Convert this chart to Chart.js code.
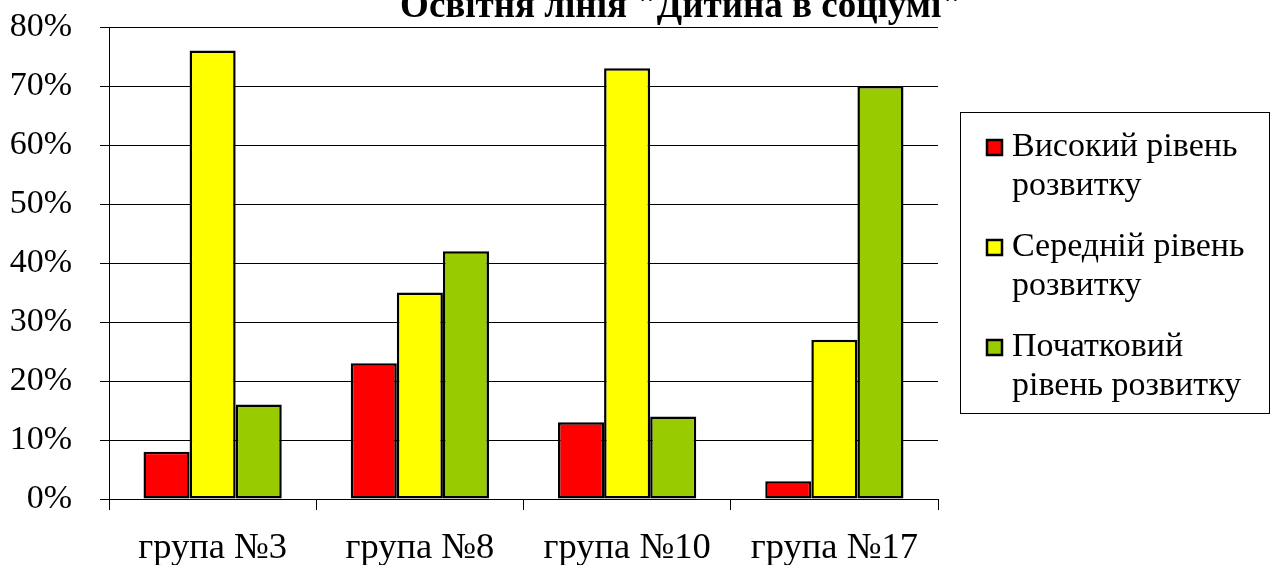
<!DOCTYPE html>
<html>
<head>
<meta charset="utf-8">
<script src="https://cdn.jsdelivr.net/npm/chart.js@4/dist/chart.umd.min.js"></script>
<style>
html,body{margin:0;padding:0;background:#fff;}
#wrap{width:1272px;height:565px;position:relative;}
</style>
</head>
<body>
<div id="wrap"><canvas id="c" width="1272" height="565"></canvas></div>
<script>
const titleText = 'Освітня лінія "Дитина в соціумі"';
const categories = ['група №3', 'група №8', 'група №10', 'група №17'];
const seriesNames = [['Високий рівень', 'розвитку'], ['Середній рівень', 'розвитку'], ['Початковий', 'рівень розвитку']];
const highLevel = [8, 23, 13, 3];
const middleLevel = [76, 35, 73, 27];
const initialLevel = [16, 42, 14, 70];
const yTicks = [0, 10, 20, 30, 40, 50, 60, 70, 80];
const colors = ['#FF0000', '#FFFF00', '#99CC00'];

const FONT = "'Liberation Serif', 'DejaVu Serif', serif";

const titlePlugin = {
  id: 'customTitle',
  afterDraw(chart) {
    const ctx = chart.ctx;
    ctx.save();
    ctx.font = 'bold 37px ' + FONT;
    ctx.fillStyle = '#000';
    ctx.textAlign = 'center';
    ctx.textBaseline = 'alphabetic';
    ctx.fillText(titleText, 681, 17);
    ctx.restore();
  }
};

const legendPlugin = {
  id: 'customLegend',
  afterDraw(chart) {
    const ctx = chart.ctx;
    ctx.save();
    ctx.strokeStyle = '#000';
    ctx.lineWidth = 1;
    ctx.strokeRect(960.5, 112.5, 309, 301);
    ctx.font = '34px ' + FONT;
    ctx.textBaseline = 'middle';
    ctx.textAlign = 'left';
    chart.data.datasets.forEach((ds, i) => {
      const y0 = 147 + i * 100;
      ctx.fillStyle = ds.backgroundColor;
      ctx.fillRect(987, y0 - 7, 15, 15);
      ctx.strokeStyle = '#000';
      ctx.lineWidth = 2.5;
      ctx.strokeRect(987, y0 - 7, 15, 15);
      ctx.fillStyle = '#000';
      seriesNames[i].forEach((ln, j) => {
        ctx.fillText(ln, 1012, y0 + j * 39);
      });
    });
    ctx.restore();
  }
};

new Chart(document.getElementById('c'), {
  type: 'bar',
  data: {
    labels: categories,
    datasets: [
      { label: seriesNames[0].join(' '), data: highLevel, backgroundColor: colors[0] },
      { label: seriesNames[1].join(' '), data: middleLevel, backgroundColor: colors[1] },
      { label: seriesNames[2].join(' '), data: initialLevel, backgroundColor: colors[2] }
    ].map(d => Object.assign(d, { borderColor: '#000', borderWidth: 2.5, borderSkipped: false,
      categoryPercentage: 0.667, barPercentage: 1.0 }))
  },
  options: {
    responsive: false,
    animation: false,
    events: [],
    layout: { padding: { top: 27, right: 334, left: 0, bottom: 0 } },
    plugins: {
      legend: { display: false },
      title: { display: false },
      tooltip: { enabled: false }
    },
    scales: {
      x: {
        grid: { display: true, drawOnChartArea: false, drawTicks: true, tickLength: 11, color: '#000', offset: true },
        border: { display: true, color: '#000', width: 1 },
        ticks: { color: '#000', font: { family: FONT, size: 36.5 }, padding: 17 },
        afterFit(scale) { scale.height = 66; scale.paddingLeft = 0; scale.paddingRight = 0; }
      },
      y: {
        min: 0, max: 80,
        afterBuildTicks(scale) { scale.ticks = yTicks.map(v => ({ value: v })); },
        grid: { color: '#000', lineWidth: 1, tickLength: 9 },
        border: { display: true, color: '#000', width: 1 },
        ticks: { color: '#000', font: { family: FONT, size: 34 }, padding: 28,
          callback: v => v + '%' },
        afterFit(scale) { scale.width = 109; scale.paddingTop = 0; scale.paddingBottom = 0; }
      }
    }
  },
  plugins: [titlePlugin, legendPlugin]
});
</script>
</body>
</html>
